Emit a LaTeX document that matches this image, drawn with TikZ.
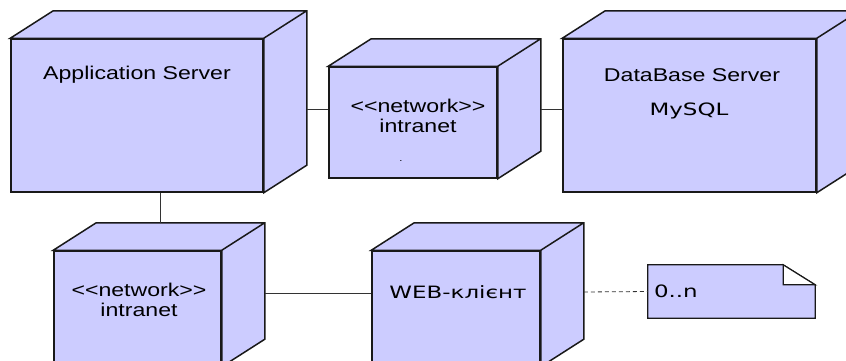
\documentclass[tikz,border=0pt]{standalone}
\usepackage{fontspec}
\setmainfont{Liberation Sans}[FakeStretch=1.25]
\newfontfamily\vfont{DejaVu Sans}[FakeStretch=1.35]
\usetikzlibrary{positioning}
\definecolor{nodefill}{HTML}{CCCCFF}
\newcommand\stereo[1]{<\kern0pt<#1>\kern0pt>}

\begin{document}
\begin{tikzpicture}[x=1pt, y=1pt,
    cube/.style={draw=black!90, fill=nodefill, line width=1.5pt, inner sep=0pt},
    side/.style={draw=black!90, fill=nodefill, line width=1.5pt},
    link/.style={draw=black!80, line width=0.8pt},
    lbl/.style={font=\fontsize{18.5}{20}\selectfont, align=center, inner sep=0pt},
    vlbl/.style={font=\vfont\fontsize{17}{19}\selectfont, inner sep=0pt}]
  \path[use as bounding box, clip] (0,0) rectangle (846,-360);
  % nodes (front faces)
  \node[cube, minimum width=252, minimum height=153] (app) at (137,-115.5) {};
  \node[cube, minimum width=168, minimum height=111] (net) at (413,-122.5) {};
  \node[cube, minimum width=253, minimum height=153] (db) at (689.5,-115.5) {};
  \node[cube, minimum width=167, minimum height=115] (netb) at (137.5,-308.5) {};
  \node[cube, minimum width=168, minimum height=115] (web) at (456,-308.5) {};
  \foreach \n in {app,net,db,netb,web}
    \draw[side] (\n.north west) -- ++(43,27.5) -- ([shift={(43,27.5)}]\n.north east)
      -- ([shift={(43,27.5)}]\n.south east) -- (\n.south east) -- (\n.north east) -- cycle
      (\n.north east) -- ++(43,27.5);
  % note
  \node[minimum width=167, minimum height=53, inner sep=0pt] (note) at (731.5,-291.5) {};
  \draw[side, line width=1.2pt] (note.north west) -- ([xshift=-32]note.north east)
    -- ([yshift=-20]note.north east) -- (note.south east) -- (note.south west) -- cycle;
  \draw[side, line width=1.2pt, fill=white] ([xshift=-32]note.north east)
    |- ([yshift=-20]note.north east) -- cycle;
  % labels
  \node[lbl] (applbl) at ([yshift=-36]app.north) {Application Server};
  \node[lbl] (netlbl) at ([shift={(5,-50)}]net.north) {\stereo{network}\\intranet};
  \node[inner sep=0pt, font=\fontsize{9}{9}\selectfont, anchor=base] (dot) at (401,-161) {.};
  \node[lbl] (dblbl) at ([shift={(2.5,-37)}]db.north) {DataBase Server};
  \node[vlbl] (sqllbl) at ([shift={(-0.5,-73)}]db.north) {MySQL};
  \node[lbl] (netblbl) at ([shift={(1.5,-49.5)}]netb.north) {\stereo{network}\\intranet};
  \node[vlbl] (weblbl) at ([shift={(2,-42)}]web.north) {WEB-клієнт};
  \node[vlbl, right=6pt of note.west] (card) {0..n};
  % connectors
  \coordinate (netbtop) at ([yshift=27.5]netb.north);
  \draw[link] ([shift={(43,6.5)}]app.east) -- ([yshift=13.5]net.west);
  \draw[link] ([shift={(43,13.5)}]net.east) -- ([yshift=6.5]db.west);
  \draw[link] ([xshift=23]app.south) -- ([xshift=23]app.south |- netbtop);
  \draw[link] ([shift={(43,15.5)}]netb.east) -- ([yshift=15.5]web.west);
  \draw[link, dash pattern=on 4pt off 3pt] ([shift={(43,16.5)}]web.east) -- (note.west);
\end{tikzpicture}
\end{document}
